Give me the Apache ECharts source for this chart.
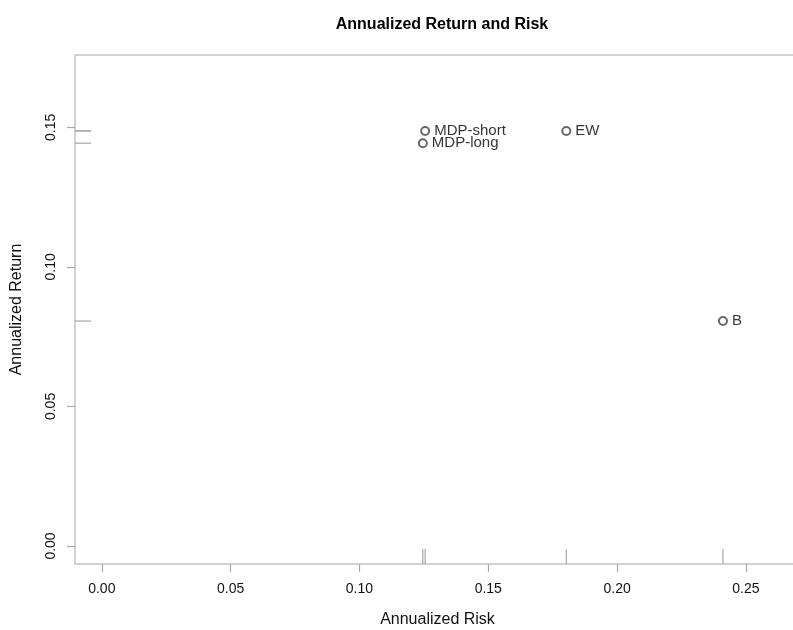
<!DOCTYPE html>
<html>
<head>
<meta charset="utf-8">
<script src="https://cdn.jsdelivr.net/npm/echarts@6/dist/echarts.min.js"></script>
<style>html,body{margin:0;padding:0;background:#fff;}#c{width:793px;height:630px;}</style>
</head>
<body>
<div id="c"></div>
<script>
// Data
var names = ['MDP-short', 'MDP-long', 'EW', 'B'];
var risk = [0.1255, 0.1246, 0.1803, 0.2411];
var ret = [0.1487, 0.1443, 0.1487, 0.0806];
var xTicks = [0.00, 0.05, 0.10, 0.15, 0.20, 0.25];
var yTicks = [0.00, 0.05, 0.10, 0.15];
var xRange = [-0.0104, 0.2710];
var yRange = [-0.00645, 0.1759];

var chart = echarts.init(document.getElementById('c'));
var grey = '#a8a8a8';
var font = 'Liberation Sans, Arial, sans-serif';

var points = names.map(function (n, i) { return { name: n, value: [risk[i], ret[i]] }; });

var option = {
  backgroundColor: '#fff',
  animation: false,
  title: {
    text: 'Annualized Return and Risk',
    left: 437, top: 12, textAlign: 'center',
    textStyle: { fontFamily: font, fontSize: 16, fontWeight: 'bold', color: '#000' }
  },
  grid: {
    left: 75, top: 55, width: 725, height: 509,
    outerBoundsMode: 'none', containLabel: false,
    show: true, borderColor: '#c4c4c4', borderWidth: 1.5, backgroundColor: 'transparent'
  },
  xAxis: {
    type: 'value', min: xRange[0], max: xRange[1],
    name: 'Annualized Risk', nameLocation: 'middle', nameGap: 48,
    nameTextStyle: { fontFamily: font, fontSize: 16, color: '#111' },
    axisLine: { show: false, onZero: false },
    splitLine: { show: false },
    axisTick: { show: true, customValues: xTicks, length: 8, lineStyle: { color: grey, width: 1.2 } },
    axisLabel: { customValues: xTicks, margin: 18, fontFamily: font, fontSize: 14, color: '#111',
      formatter: function (v) { return v.toFixed(2); } }
  },
  yAxis: {
    type: 'value', min: yRange[0], max: yRange[1],
    name: 'Annualized Return', nameLocation: 'middle', nameGap: 50, nameRotate: 90,
    nameTextStyle: { fontFamily: font, fontSize: 16, color: '#111' },
    axisLine: { show: false, onZero: false },
    splitLine: { show: false },
    axisTick: { show: true, customValues: yTicks, length: 8, lineStyle: { color: grey, width: 1.2 } },
    axisLabel: { customValues: yTicks, margin: 17, rotate: 90, fontFamily: font, fontSize: 14, color: '#111',
      formatter: function (v) { return v.toFixed(2); } }
  },
  series: [
    {
      type: 'scatter',
      data: points,
      symbol: 'emptyCircle', symbolSize: 8,
      itemStyle: { color: '#444', borderColor: '#444', borderWidth: 1.2 },
      label: {
        show: true, position: 'right', distance: 4,
        formatter: function (p) { return p.name; },
        fontFamily: font, fontSize: 15, color: '#000', textBorderWidth: 0
      }
    },
    {
      type: 'custom',
      clip: false,
      data: risk,
      renderItem: function (params, api) {
        var p = api.coord([api.value(0), yRange[0]]);
        return { type: 'line', shape: { x1: p[0], y1: p[1], x2: p[0], y2: p[1] - 15 },
          style: { stroke: grey, lineWidth: 1.2 } };
      }
    },
    {
      type: 'custom',
      clip: false,
      data: ret,
      renderItem: function (params, api) {
        var p = api.coord([xRange[0], api.value(0)]);
        return { type: 'line', shape: { x1: p[0], y1: p[1], x2: p[0] + 16, y2: p[1] },
          style: { stroke: grey, lineWidth: 1.2 } };
      }
    }
  ]
};
chart.setOption(option);
</script>
</body>
</html>
